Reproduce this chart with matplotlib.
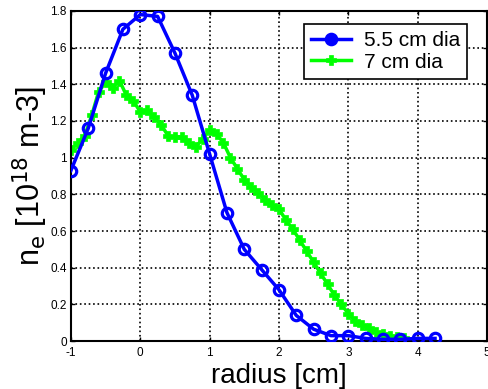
import matplotlib.pyplot as plt
import numpy as np

plt.rcParams["font.family"] = ["Liberation Sans", "DejaVu Sans"]

# 5.5 cm dia probe, radius in cm, density in 1e18 m^-3
r_55 = [-1.0, -0.75, -0.5, -0.25, 0.0, 0.25, 0.5, 0.75, 1.0, 1.25, 1.5,
        1.75, 2.0, 2.25, 2.5, 2.75, 3.0, 3.25, 3.5, 3.75, 4.0, 4.25]
ne_55 = [0.93, 1.16, 1.46, 1.70, 1.78, 1.77, 1.57, 1.34, 1.02, 0.70, 0.50,
         0.39, 0.28, 0.14, 0.065, 0.03, 0.03, 0.015, 0.01, 0.01, 0.015, 0.015]

# 7 cm dia probe
r_7 = [-1.0, -0.9, -0.8, -0.7, -0.6, -0.5, -0.4, -0.3, -0.2, -0.1, 0.0,
       0.1, 0.2, 0.3, 0.4, 0.5, 0.6, 0.7, 0.8, 0.9, 1.0, 1.1, 1.2, 1.3,
       1.4, 1.5, 1.6, 1.7, 1.8, 1.9, 2.0, 2.1, 2.2, 2.3, 2.4, 2.5, 2.6,
       2.7, 2.8, 2.9, 3.0, 3.1, 3.2, 3.3, 3.4, 3.5, 3.6, 3.7, 3.8]
ne_7 = [1.04, 1.08, 1.12, 1.23, 1.36, 1.41, 1.38, 1.42, 1.34, 1.31, 1.25,
        1.26, 1.22, 1.18, 1.12, 1.11, 1.11, 1.08, 1.06, 1.10, 1.15, 1.13,
        1.08, 1.00, 0.94, 0.88, 0.84, 0.81, 0.77, 0.74, 0.72, 0.66, 0.61,
        0.55, 0.49, 0.43, 0.37, 0.31, 0.25, 0.20, 0.15, 0.11, 0.09, 0.07,
        0.05, 0.04, 0.03, 0.02, 0.015]

fig = plt.figure(figsize=(4.89, 3.89), dpi=100)
ax = fig.add_axes([0.145, 0.123, 0.851, 0.849])

ax.plot(r_55, ne_55, color="#0000ff", lw=2.5, marker="o", ms=7.5,
        mfc="none", mew=2.3, label="5.5 cm dia", zorder=3)
ax.plot(r_7, ne_7, color="#00ff00", lw=2.5, marker="P", ms=6.5,
        mew=0.5, label="7 cm dia", zorder=2)

ax.set_xlim(-1, 5)
ax.set_ylim(0, 1.8)
ax.set_xticks(np.arange(-1, 6, 1))
ax.set_yticks(np.arange(0, 1.81, 0.2))
ax.set_xticklabels(["-1", "0", "1", "2", "3", "4", "5"])
ax.set_yticklabels(["0", "0.2", "0.4", "0.6", "0.8", "1", "1.2", "1.4", "1.6", "1.8"])
ax.tick_params(direction="in", top=True, right=True, labelsize=8.5,
               length=3, width=1)
ax.tick_params(axis="x", pad=4)
ax.tick_params(axis="y", pad=3)
ax.grid(True, color="black", linestyle=":", linewidth=1.2)
for s in ax.spines.values():
    s.set_linewidth(1.5)

ax.set_xlabel("radius [cm]", fontsize=20, labelpad=3)
ax.set_ylabel(r"n$_{\mathrm{e}}$ [10$^{18}$ m-3]", fontsize=22, labelpad=0)

leg = ax.legend(loc="upper right", bbox_to_anchor=(0.967, 0.98), fontsize=15,
                frameon=True, fancybox=False, edgecolor="black", framealpha=1,
                handlelength=1.9, borderpad=0.35, labelspacing=0.12,
                handletextpad=0.6, borderaxespad=0.3)
leg.get_frame().set_linewidth(1.2)
for h in leg.legend_handles:
    h.set_markerfacecolor(h.get_color())

fig.savefig("out.png", dpi=100)
